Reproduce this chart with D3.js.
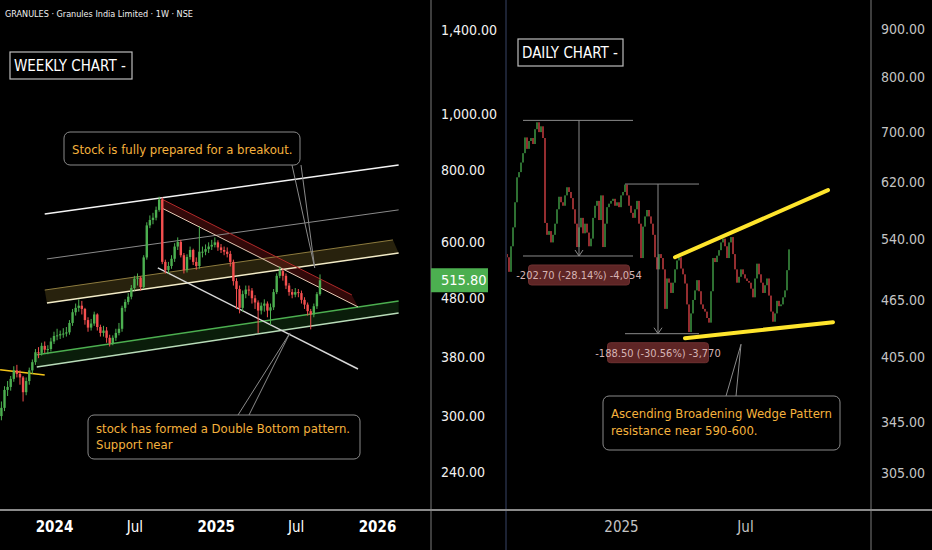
<!DOCTYPE html>
<html><head><meta charset="utf-8">
<script src="https://cdn.jsdelivr.net/npm/d3@7"></script>
<style>
body{margin:0;background:#000;}
svg{display:block;}
text{font-family:'DejaVu Sans Condensed','DejaVu Sans',sans-serif;font-stretch:condensed;}
</style>
</head><body>
<svg id="c" width="932" height="550"></svg>
<script>
// ---------------- DATA ----------------
const title = "GRANULES · Granules India Limited · 1W · NSE";
const weeklyStart = "2023-09-04";
const weeklyOpen0 = 300;
const weeklyClose = [310,333,337,348,360,355,350,330,345,360,372,387,386,397,391,392,404,413,414,416,417,419,435,454,462,466,460,440,427,434,450,428,418,422,410,401,410,418,425,462,473,483,500,519,521,502,565,642,656,662,683,712,555,537,546,562,590,601,570,537,566,582,555,546,578,578,584,590,594,600,588,582,578,573,555,514,498,462,488,497,495,480,472,457,466,470,457,463,492,525,535,525,505,492,487,492,490,477,468,456,450,465,488,515.8];
const weeklyHigh = [318,338,345,352,366,368,360,352,350,364,376,392,395,402,404,398,410,420,425,422,426,428,440,460,470,478,475,462,445,442,455,452,432,430,428,415,414,425,435,466,478,490,506,525,530,524,570,650,668,675,692,720,718,560,555,570,598,612,606,575,572,590,585,565,640,590,595,600,606,612,605,596,590,588,580,560,520,505,495,505,505,500,486,476,472,478,474,470,498,530,545,540,530,510,498,500,498,495,482,472,460,470,492,528];
const weeklyLow = [295,306,325,332,344,350,340,318,326,340,355,368,378,382,386,384,388,400,406,408,410,412,415,430,448,455,450,432,420,422,430,422,412,412,402,396,398,405,414,420,455,468,478,495,505,495,498,560,635,645,655,678,550,530,530,540,555,582,565,530,532,560,548,538,540,565,570,575,582,588,580,575,570,565,545,505,460,452,455,480,485,470,460,418,450,455,445,432,458,488,520,515,498,485,480,482,482,470,460,448,424,445,460,485];

const dailyOpen0 = 520;
const dailyClose = [516,498,530,555,590,627,635,650,665,691,672,685,690,680,705,717,700,710,690,561,545,550,535,545,560,580,598,590,585,600,612,605,596,580,560,529,555,568,547,560,548,530,540,568,585,592,565,600,529,560,583,588,592,595,585,590,583,600,605,616,600,585,575,568,580,592,560,515,556,570,579,570,560,545,516,501,520,515,501,455,490,485,473,485,501,512,516,502,495,484,460,430,450,465,476,488,475,460,455,452,445,440,475,515,510,518,525,535,540,530,515,535,542,520,501,485,492,501,495,490,487,485,478,468,490,508,495,485,473,482,490,470,452,441,450,464,458,460,468,476,500,526];

const leftTicks = [1400,1000,800,600,480,380,300,240];
const rightTicks = [900,800,700,620,540,465,405,345,305];
const weeklyTimeTicks = [["2024-01-01","2024",true],["2024-07-01","Jul",false],["2025-01-01","2025",true],["2025-07-01","Jul",false],["2026-01-01","2026",true]];
const dailyTimeTicks = [[57,"2025"],[119,"Jul"]];
const lastPrice = 515.80;

// weekly drawings: [date, price]
const wTopLine = [["2023-12-11",672],["2026-02-19",817]];
const wMidLine = [["2023-12-16",561.6],["2026-02-19",683]];
const wYellowTop = [["2023-12-11",496],["2026-02-06",605.8]];
const wYellowBottom = [["2023-12-16",471],["2026-02-19",575]];
const wRedTop = [["2024-09-01",713],["2025-11-05",486.5]];
const wRedBottom = [["2024-09-01",688],["2025-11-19",463.8]];
const wWhiteDesc = [["2024-08-23",541.8],["2025-11-19",362]];
const wGreenTop = [["2023-11-23",383],["2026-02-19",475]];
const wGreenBottom = [["2023-11-23",365],["2026-02-19",452.8]];
const wYellowShort = [["2023-09-01",360.8],["2023-12-11",353.5]];

// daily drawings: [index, price]
const dWedgeTop = [[84,516],[160.5,607.7]];
const dWedgeBottom = [[89,423.6],[163,440.5]];
const dMeasures = [
  {from:8,to:63,at:36,top:720.3,bottom:517.6,label:"-202.70 (-28.14%) -4,054"},
  {from:59,to:96,at:75.5,top:616.8,bottom:428.3,label:"-188.50 (-30.56%) -3,770"}
];

const notes = {
  breakout: {lines:["Stock is fully prepared for a breakout."], tip:["2025-08-13",542]},
  doubleBottom: {lines:["stock has formed a Double Bottom pattern.","Support near"], tip:["2025-06-18",418]},
  wedge: {lines:["Ascending Broadening Wedge Pattern","resistance near 590-600."], tip:[117,417.4]}
};

// ---------------- SCALES ----------------
const svg = d3.select("#c");
const P = d3.timeParse("%Y-%m-%d");
const xW = d3.scaleTime().domain([P("2024-01-01"),P("2026-01-01")]).range([54,377]);
const yL = d3.scaleLog().domain([1400,240]).range([30,472]);
const xD = d3.scaleLinear().domain([0,dailyClose.length-1]).range([507,789]);
const yR = d3.scaleLog().domain([900,305]).range([29,473]);

svg.append("rect").attr("width",932).attr("height",550).attr("fill","#000");

const defs = svg.append("defs");
defs.append("clipPath").attr("id","clipL").append("rect").attr("x",0).attr("y",0).attr("width",431).attr("height",509);
defs.append("clipPath").attr("id","clipR").append("rect").attr("x",507).attr("y",0).attr("width",364).attr("height",509);

const gL = svg.append("g").attr("clip-path","url(#clipL)");
const gR = svg.append("g").attr("clip-path","url(#clipR)");

const lineW = d3.line().x(d=>xW(P(d[0]))).y(d=>yL(d[1]));
const lineD = d3.line().x(d=>xD(d[0])).y(d=>yR(d[1]));

function band(g, top, bottom, fill){
  const pts = top.map(d=>[xW(P(d[0])),yL(d[1])]).concat(bottom.slice().reverse().map(d=>[xW(P(d[0])),yL(d[1])]));
  g.append("path").attr("d","M"+pts.map(p=>p.join(",")).join("L")+"Z").attr("fill",fill);
}

// bands
band(gL, wYellowTop, wYellowBottom, "rgba(95,82,30,0.42)");
band(gL, wGreenTop, wGreenBottom, "rgba(25,70,25,0.42)");
band(gL, wRedTop, wRedBottom, "rgba(100,18,18,0.5)");

gL.append("path").attr("d",lineW(wTopLine)).attr("stroke","#f4f4f4").attr("stroke-width",1.6).attr("fill","none");
gL.append("path").attr("d",lineW(wMidLine)).attr("stroke","#8a8a8a").attr("stroke-width",1).attr("fill","none");
gL.append("path").attr("d",lineW(wYellowTop)).attr("stroke","#8d7b3e").attr("stroke-width",1).attr("fill","none");
gL.append("path").attr("d",lineW(wYellowBottom)).attr("stroke","#f3ecc8").attr("stroke-width",1.5).attr("fill","none");
gL.append("path").attr("d",lineW(wGreenTop)).attr("stroke","#4caf50").attr("stroke-width",1.5).attr("fill","none");
gL.append("path").attr("d",lineW(wGreenBottom)).attr("stroke","#b9dcb9").attr("stroke-width",1.5).attr("fill","none");
gL.append("path").attr("d",lineW(wRedTop)).attr("stroke","#b02a2a").attr("stroke-width",1).attr("fill","none");
gL.append("path").attr("d",lineW(wRedBottom)).attr("stroke","#e8cdb8").attr("stroke-width",1).attr("fill","none");
gL.append("path").attr("d",lineW(wWhiteDesc)).attr("stroke","#d8d8d8").attr("stroke-width",1.5).attr("fill","none");
gL.append("path").attr("d",lineW(wYellowShort)).attr("stroke","#f5c518").attr("stroke-width",1.5).attr("fill","none");

// weekly candles
const weekly = weeklyClose.map((c,i)=>({
  date: d3.timeWeek.offset(P(weeklyStart), i),
  o: i===0 ? weeklyOpen0 : weeklyClose[i-1], c, h: weeklyHigh[i], l: weeklyLow[i]
}));
const GREEN="#4caf50", RED="#f44f4f";
const cw = gL.append("g");
cw.selectAll("line.w").data(weekly).join("line").attr("class","w")
  .attr("x1",d=>xW(d.date)).attr("x2",d=>xW(d.date))
  .attr("y1",d=>yL(d.h)).attr("y2",d=>yL(d.l))
  .attr("stroke",d=>d.c>=d.o?GREEN:RED).attr("stroke-width",1);
cw.selectAll("rect.b").data(weekly).join("rect").attr("class","b")
  .attr("x",d=>xW(d.date)-1.2).attr("width",2.4)
  .attr("y",d=>yL(Math.max(d.o,d.c))).attr("height",d=>Math.max(1,Math.abs(yL(d.o)-yL(d.c))))
  .attr("fill",d=>d.c>=d.o?GREEN:RED);

// daily candles
const daily = dailyClose.map((c,i)=>({i, o: i===0?dailyOpen0:dailyClose[i-1], c}));
gR.selectAll("rect.d").data(daily).join("rect").attr("class","d")
  .attr("x",d=>xD(d.i)-0.8).attr("width",1.6)
  .attr("y",d=>yR(Math.max(d.o,d.c))).attr("height",d=>Math.max(1,Math.abs(yR(d.o)-yR(d.c))))
  .attr("fill",d=>d.c>=d.o?"#3a8c3f":"#b8393c");

// measures
dMeasures.forEach(m=>{
  const g = gR.append("g").attr("stroke","#8a8a8a").attr("stroke-width",1).attr("fill","none");
  g.append("line").attr("x1",xD(m.from)).attr("x2",xD(m.to)).attr("y1",yR(m.top)).attr("y2",yR(m.top));
  g.append("line").attr("x1",xD(m.from)).attr("x2",xD(m.to)).attr("y1",yR(m.bottom)).attr("y2",yR(m.bottom));
  const x = xD(m.at);
  g.append("line").attr("x1",x).attr("x2",x).attr("y1",yR(m.top)).attr("y2",yR(m.bottom));
  g.append("path").attr("d",`M${x-4},${yR(m.bottom)-6}L${x},${yR(m.bottom)}L${x+4},${yR(m.bottom)-6}`);
  const by = yR(m.bottom)+9;
  gR.append("rect").attr("x",x-50.5).attr("y",by).attr("width",101).attr("height",20).attr("rx",3)
    .attr("fill","#5e2525").attr("stroke","#6e3030");
  gR.append("text").attr("x",x).attr("y",by+14).attr("text-anchor","middle")
    .attr("fill","#d6b4b4").attr("font-size",11).text(m.label);
});

// wedge
gR.append("path").attr("d",lineD(dWedgeTop)).attr("stroke","#ffe52c").attr("stroke-width",4).attr("stroke-linecap","round").attr("fill","none");
gR.append("path").attr("d",lineD(dWedgeBottom)).attr("stroke","#ffe52c").attr("stroke-width",4).attr("stroke-linecap","round").attr("fill","none");

// callouts
function callout(box, note, tip, p1, p2){
  svg.append("path").attr("d",`M${p1[0]},${p1[1]}L${tip[0]},${tip[1]}L${p2[0]},${p2[1]}`)
    .attr("stroke","#8a8a8a").attr("stroke-width",1).attr("fill","none");
  svg.append("rect").attr("x",box.x).attr("y",box.y).attr("width",box.w).attr("height",box.h).attr("rx",6)
    .attr("fill","#000").attr("stroke","#8a8a8a").attr("stroke-width",1);
  note.lines.forEach((t,k)=>{
    svg.append("text").attr("x",box.x+8).attr("y",box.y+box.ty+k*box.lh)
      .attr("fill","#f5b23d").attr("font-size",13).text(t);
  });
}
callout({x:64,y:132,w:236,h:33,ty:21.5,lh:17}, notes.breakout,
  [xW(P(notes.breakout.tip[0])), yL(notes.breakout.tip[1])], [292,165],[301,165]);
callout({x:88,y:415,w:272,h:44,ty:18,lh:16}, notes.doubleBottom,
  [xW(P(notes.doubleBottom.tip[0])), yL(notes.doubleBottom.tip[1])], [238,415],[249,415]);
callout({x:603,y:396,w:237,h:54,ty:22,lh:17}, notes.wedge,
  [xD(notes.wedge.tip[0]), yR(notes.wedge.tip[1])], [726,396],[736,396]);

// labels boxes
function labelBox(x,y,w,h,t){
  svg.append("rect").attr("x",x).attr("y",y).attr("width",w).attr("height",h).attr("fill","#000").attr("stroke","#bdbdbd").attr("stroke-width",1.2);
  svg.append("text").attr("x",x+4).attr("y",y+h/2+5.5).attr("fill","#fff").attr("font-size",15).text(t);
}
labelBox(10,52,122,27,"WEEKLY CHART -");
labelBox(518,39,105,27,"DAILY CHART -");

svg.append("text").attr("x",5).attr("y",17).attr("fill","#f0f0f0").attr("font-size",9).text(title);

// separators
svg.append("line").attr("x1",431).attr("x2",431).attr("y1",0).attr("y2",550).attr("stroke","#7a7a7a");
svg.append("line").attr("x1",506).attr("x2",506).attr("y1",0).attr("y2",550).attr("stroke","#1c2233").attr("stroke-width",2);
svg.append("line").attr("x1",871).attr("x2",871).attr("y1",0).attr("y2",550).attr("stroke","#7a7a7a");
svg.append("line").attr("x1",0).attr("x2",932).attr("y1",510).attr("y2",510).attr("stroke","#8a8a8a").attr("stroke-width",2);

// left price axis
const axL = d3.axisRight(yL).tickValues(leftTicks).tickSize(0).tickFormat(d3.format(",.2f"));
const gax = svg.append("g").attr("transform","translate(441,0)").call(axL);
gax.select(".domain").remove();
gax.selectAll("text").attr("x",0).attr("fill","#f2f2f2").attr("font-size",14).attr("font-family",null);

// badge
svg.append("rect").attr("x",431).attr("y",yL(lastPrice)-12).attr("width",57).attr("height",24).attr("fill","#4caf50");
svg.append("text").attr("x",441).attr("y",yL(lastPrice)+5).attr("fill","#fff").attr("font-size",14.5).text(d3.format(".2f")(lastPrice));

// right price axis
const axR = d3.axisRight(yR).tickValues(rightTicks).tickSize(0).tickFormat(d3.format(",.2f"));
const gar = svg.append("g").attr("transform","translate(881,0)").call(axR);
gar.select(".domain").remove();
gar.selectAll("text").attr("x",0).attr("fill","#c4c4c4").attr("font-size",14).attr("font-family",null);

// bottom time axes
const axWB = d3.axisBottom(xW).tickValues(weeklyTimeTicks.map(t=>P(t[0]))).tickSize(0)
  .tickFormat((d,i)=>weeklyTimeTicks[i][1]);
const gwb = svg.append("g").attr("transform","translate(0,518)").call(axWB);
gwb.select(".domain").remove();
gwb.selectAll("text").attr("fill","#fff").attr("font-size",15).attr("font-family",null)
  .attr("font-weight",(d,i)=>weeklyTimeTicks[i][2]?"bold":"normal");

const axDB = d3.axisBottom(xD).tickValues(dailyTimeTicks.map(t=>t[0])).tickSize(0)
  .tickFormat((d,i)=>dailyTimeTicks[i][1]);
const gdb = svg.append("g").attr("transform","translate(0,518)").call(axDB);
gdb.select(".domain").remove();
gdb.selectAll("text").attr("fill","#c4c4c4").attr("font-size",15).attr("font-family",null);
</script>
</body></html>
